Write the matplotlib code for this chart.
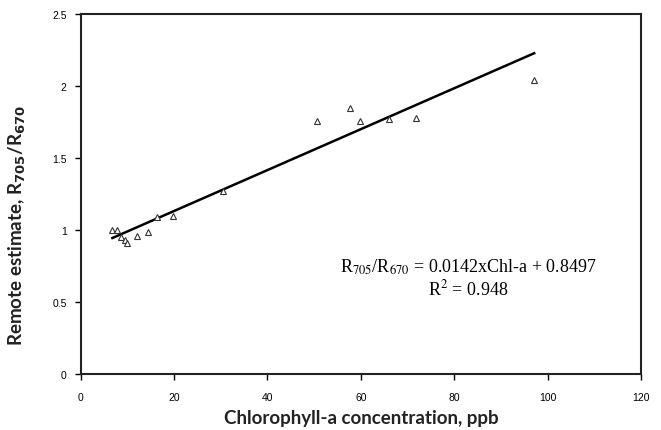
import numpy as np
import matplotlib
matplotlib.use('Agg')
import matplotlib.pyplot as plt

# Chlorophyll-a (ppb) vs remote estimate R705/R670
chl = [6.8, 7.7, 8.6, 9.5, 10.0, 12.1, 14.5, 16.4, 19.7, 30.4,
       50.7, 57.6, 59.9, 66.1, 71.8, 97.1]
ratio = [1.00, 1.00, 0.95, 0.93, 0.91, 0.96, 0.99, 1.09, 1.10, 1.27,
         1.76, 1.85, 1.76, 1.77, 1.78, 2.04]
slope, intercept = 0.0142, 0.8497

x_ticks = [0, 20, 40, 60, 80, 100, 120]
y_ticks = [0, 0.5, 1, 1.5, 2, 2.5]
y_tick_labels = ['0', '0.5', '1', '1.5', '2', '2.5']

fig = plt.figure(figsize=(6.61, 4.31), dpi=100)
ax = fig.add_axes([0.122, 0.129, 0.848, 0.836])

ax.plot(chl, ratio, linestyle='none', marker='^', markersize=5,
        markerfacecolor='white', markeredgecolor='#333333', markeredgewidth=0.8, zorder=3)

xf = np.array([min(chl), max(chl)])
ax.plot(xf, slope * xf + intercept, color='black', linewidth=1.8, zorder=2)

ax.set_xlim(0, 120)
ax.set_ylim(0, 2.5)
ax.set_xticks(x_ticks)
ax.set_yticks(y_ticks)
ax.set_yticklabels(y_tick_labels)
ax.tick_params(direction='out', length=4, width=1, labelsize=7.5, color='black')
ax.tick_params(axis='x', pad=9)
ax.tick_params(axis='y', pad=6)
for lab in ax.get_xticklabels() + ax.get_yticklabels():
    lab.set_family('Liberation Sans')

for s in ax.spines.values():
    s.set_linewidth(1.5)
    s.set_color('#222222')

ax.set_xlabel('Chlorophyll-a concentration, ppb', family='Lato', fontsize=13.5,
              fontweight='bold', color='#222222')
ax.set_ylabel(r'Remote estimate, R$_{\mathbf{705}}$/R$_{\mathbf{670}}$', family='Lato',
              fontsize=13.5, fontweight='bold', color='#222222')
ax.xaxis.set_label_coords(0.5, -0.095)
ax.yaxis.set_label_coords(-0.094, 0.415)

ax.text(83, 0.75, r'R$_{705}$/R$_{670}$ = 0.0142xChl-a + 0.8497', family='Liberation Serif',
        math_fontfamily='stix', fontsize=13, ha='center', va='center')
ax.text(83, 0.60, r'R$^2$ = 0.948', family='Liberation Serif',
        math_fontfamily='stix', fontsize=13, ha='center', va='center')

fig.savefig('out.png', dpi=100)
